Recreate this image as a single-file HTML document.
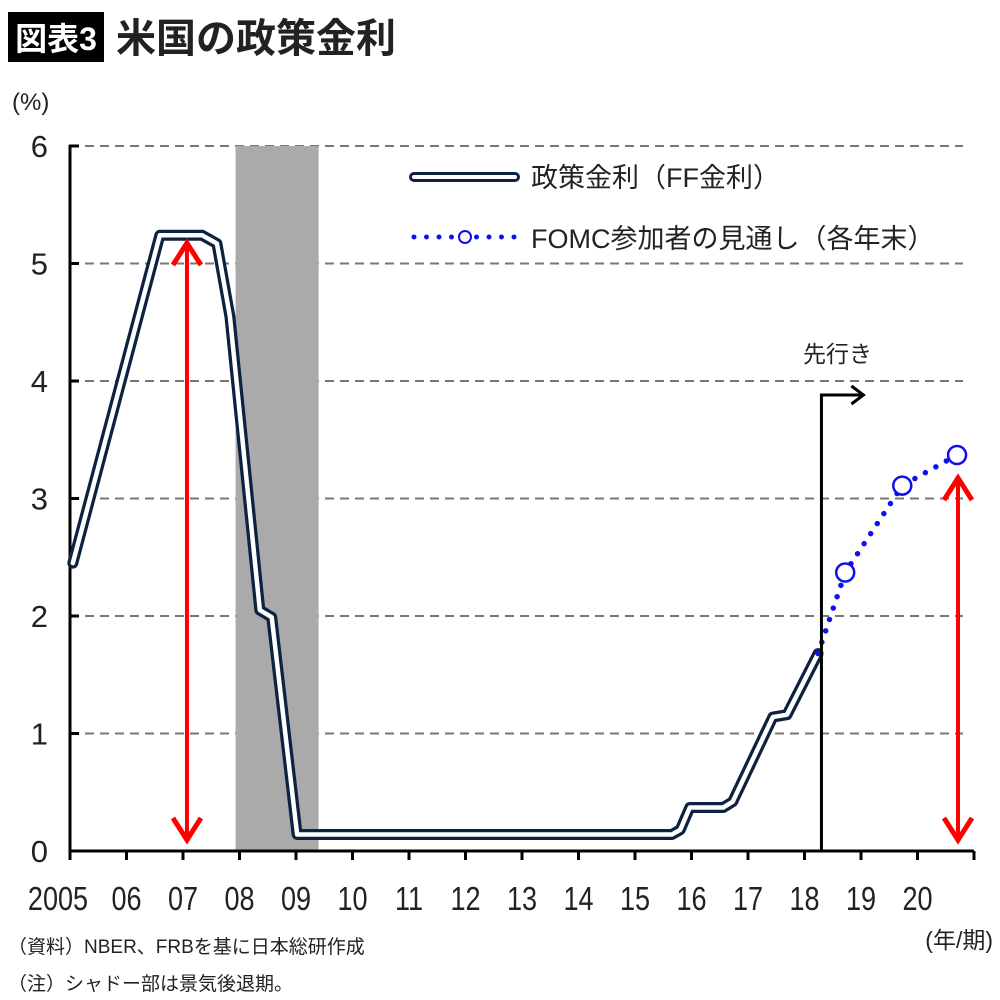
<!DOCTYPE html>
<html><head><meta charset="utf-8"><style>
html,body{margin:0;padding:0;background:#fff;width:1000px;height:1000px;overflow:hidden}
svg{display:block}
text{font-family:"Liberation Sans","Noto Sans CJK JP",sans-serif}
</style></head><body>
<svg id="chart" width="1000" height="1000" viewBox="0 0 1000 1000" xmlns="http://www.w3.org/2000/svg">
<rect x="8" y="12" width="96" height="50" fill="#000"/>
<text x="56" y="50" fill="#fff" font-size="32" font-weight="bold" text-anchor="middle">図表3</text>
<text x="116" y="52" fill="#222" font-size="40" font-weight="bold">米国の政策金利</text>
<text x="12" y="110" font-size="24" fill="#222">(%)</text>
<g id="grid"></g>
<g id="recession"></g>
<g id="axes"></g>
<g id="series"></g>
<g id="annot"></g>
<g>
  <line x1="414" y1="177" x2="515" y2="177" stroke="#0d2140" stroke-width="10" stroke-linecap="round"/>
  <line x1="414" y1="177" x2="515" y2="177" stroke="#fff" stroke-width="4" stroke-linecap="round"/>
  <text x="531" y="187" font-size="27" fill="#222">政策金利（FF金利）</text>
  <line x1="414" y1="237" x2="515" y2="237" stroke="#1010ee" stroke-width="5" stroke-linecap="round" stroke-dasharray="0 12.5"/>
  <circle cx="465" cy="237" r="6" fill="#fff" stroke="#1010ee" stroke-width="2"/>
  <text x="531" y="248" font-size="27" fill="#222">FOMC参加者の見通し（各年末）</text>
</g>
<text x="803" y="362" font-size="23" fill="#222">先行き</text>
<text x="993" y="948" font-size="23" fill="#222" text-anchor="end">(年/期)</text>
<text x="8" y="953" font-size="19" fill="#222">（資料）NBER、FRBを基に日本総研作成</text>
<text x="8" y="990" font-size="19" fill="#222">（注）シャドー部は景気後退期。</text>
</svg>
<script>
const yTicks=[0,1,2,3,4,5,6];
const xLabels=["2005","06","07","08","09","10","11","12","13","14","15","16","17","18","19","20"];
const ffYears=[2005.05,2006.59,2007.34,2007.6,2007.83,2008.36,2008.57,2009.02,2015.65,2015.8,2015.97,2016.56,2016.73,2017.44,2017.69,2018.24];
const ffRates=[2.45,5.24,5.24,5.17,4.55,2.05,1.99,0.14,0.14,0.18,0.37,0.37,0.42,1.14,1.16,1.68];
const fomcYears=[2018.24,2018.72,2019.73,2020.7];
const fomcRates=[1.68,2.37,3.11,3.37];
const fomcMarkerYears=[2018.72,2019.73,2020.7];
const fomcMarkerRates=[2.37,3.11,3.37];
const recession=[2007.93,2009.4];
const forwardYear=2018.3;
const arrowLeft=[2007.07,0,5.2];
const arrowRight=[2021.5,0,3.2];

const X0=70,XS=56.5,Y0=851,YS=117.5;
const sx=y=>X0+(y-2005)*XS, sy=v=>Y0-v*YS;
const NS="http://www.w3.org/2000/svg";
function mk(tag,attrs,parent){const e=document.createElementNS(NS,tag);for(const k in attrs)e.setAttribute(k,attrs[k]);parent.appendChild(e);return e;}
const grid=document.getElementById('grid'),axes=document.getElementById('axes'),series=document.getElementById('series'),annot=document.getElementById('annot'),rec=document.getElementById('recession');

yTicks.forEach(v=>{
  if(v>0){const g=mk('line',{x1:X0,y1:sy(v),x2:963,y2:sy(v),stroke:'#777','stroke-width':2,'stroke-dasharray':'9 6'},grid);
  
  }
  const t=mk('line',{x1:X0-1,y1:sy(v),x2:X0+9,y2:sy(v),stroke:'#000','stroke-width':3},axes);
  
  
  const l=mk('text',{x:48,y:sy(v)+11,'font-size':31,fill:'#222','text-anchor':'end'},axes);
  l.textContent=v;
  
  
});
const r=mk('rect',{x:sx(recession[0]),y:sy(6),width:sx(recession[1])-sx(recession[0]),height:Y0-sy(6),fill:'#aaa'},rec);



const ya=mk('line',{x1:X0,y1:sy(6)-1,x2:X0,y2:Y0+1,stroke:'#000','stroke-width':3},axes);


const xa=mk('line',{x1:X0,y1:Y0,x2:sx(2021),y2:Y0,stroke:'#000','stroke-width':3},axes);


for(let i=0;i<=16;i++){
  const t=mk('line',{x1:sx(2005+i),y1:Y0,x2:sx(2005+i),y2:Y0+9,stroke:'#000','stroke-width':3},axes);
  
  
}
xLabels.forEach((s,i)=>{
  const cx=sx(2005+i)-(i===0?12:0);
  const l=mk('text',{x:cx,y:910,'font-size':33,fill:'#222','text-anchor':'middle',transform:`translate(${cx},0) scale(0.82,1) translate(${-cx},0)`},axes);
  l.textContent=s;
  
  
});

const ffPts=ffYears.map((y,i)=>sx(y)+','+sy(ffRates[i])).join(' ');
const o=mk('polyline',{points:ffPts,fill:'none',stroke:'#0d2140','stroke-width':11,'stroke-linejoin':'round','stroke-linecap':'round'},series);


const inn=mk('polyline',{points:ffPts,fill:'none',stroke:'#fff','stroke-width':4.5,'stroke-linejoin':'round','stroke-linecap':'round'},series);



const fp=fomcYears.map((y,i)=>sx(y)+','+sy(fomcRates[i])).join(' ');
const d=mk('polyline',{points:fp,fill:'none',stroke:'#1010ee','stroke-width':5.5,'stroke-linecap':'round','stroke-dasharray':'0 12'},series);


fomcMarkerYears.forEach((y,i)=>{
  const c=mk('circle',{cx:sx(y),cy:sy(fomcMarkerRates[i]),r:9,fill:'#fff',stroke:'#1010ee','stroke-width':2.5},series);
  
  
});

const fx=sx(forwardYear);
const fl=mk('polyline',{points:`${fx},${Y0} ${fx},395 ${fx+40},395`,fill:'none',stroke:'#000','stroke-width':3},annot);


const fh=mk('polyline',{points:`${fx+30},386 ${fx+42},395 ${fx+30},404`,fill:'none',stroke:'#000','stroke-width':3},annot);



[[arrowLeft,'left'],[arrowRight,'right']].forEach(([a,n])=>{
  const x=n==='left'?sx(a[0]):958;
  const y1=sy(a[2])+3,y2=sy(a[1])-11;
  const ln=mk('line',{x1:x,y1:y1,x2:x,y2:y2,stroke:'#f00','stroke-width':4},annot);
  
  
  const h1=mk('polyline',{points:`${x-14},${y1+22} ${x},${y1} ${x+14},${y1+22}`,fill:'none',stroke:'#f00','stroke-width':5},annot);
  
  
  const h2=mk('polyline',{points:`${x-14},${y2-22} ${x},${y2} ${x+14},${y2-22}`,fill:'none',stroke:'#f00','stroke-width':5},annot);
  
  
});
</script>
</body></html>
